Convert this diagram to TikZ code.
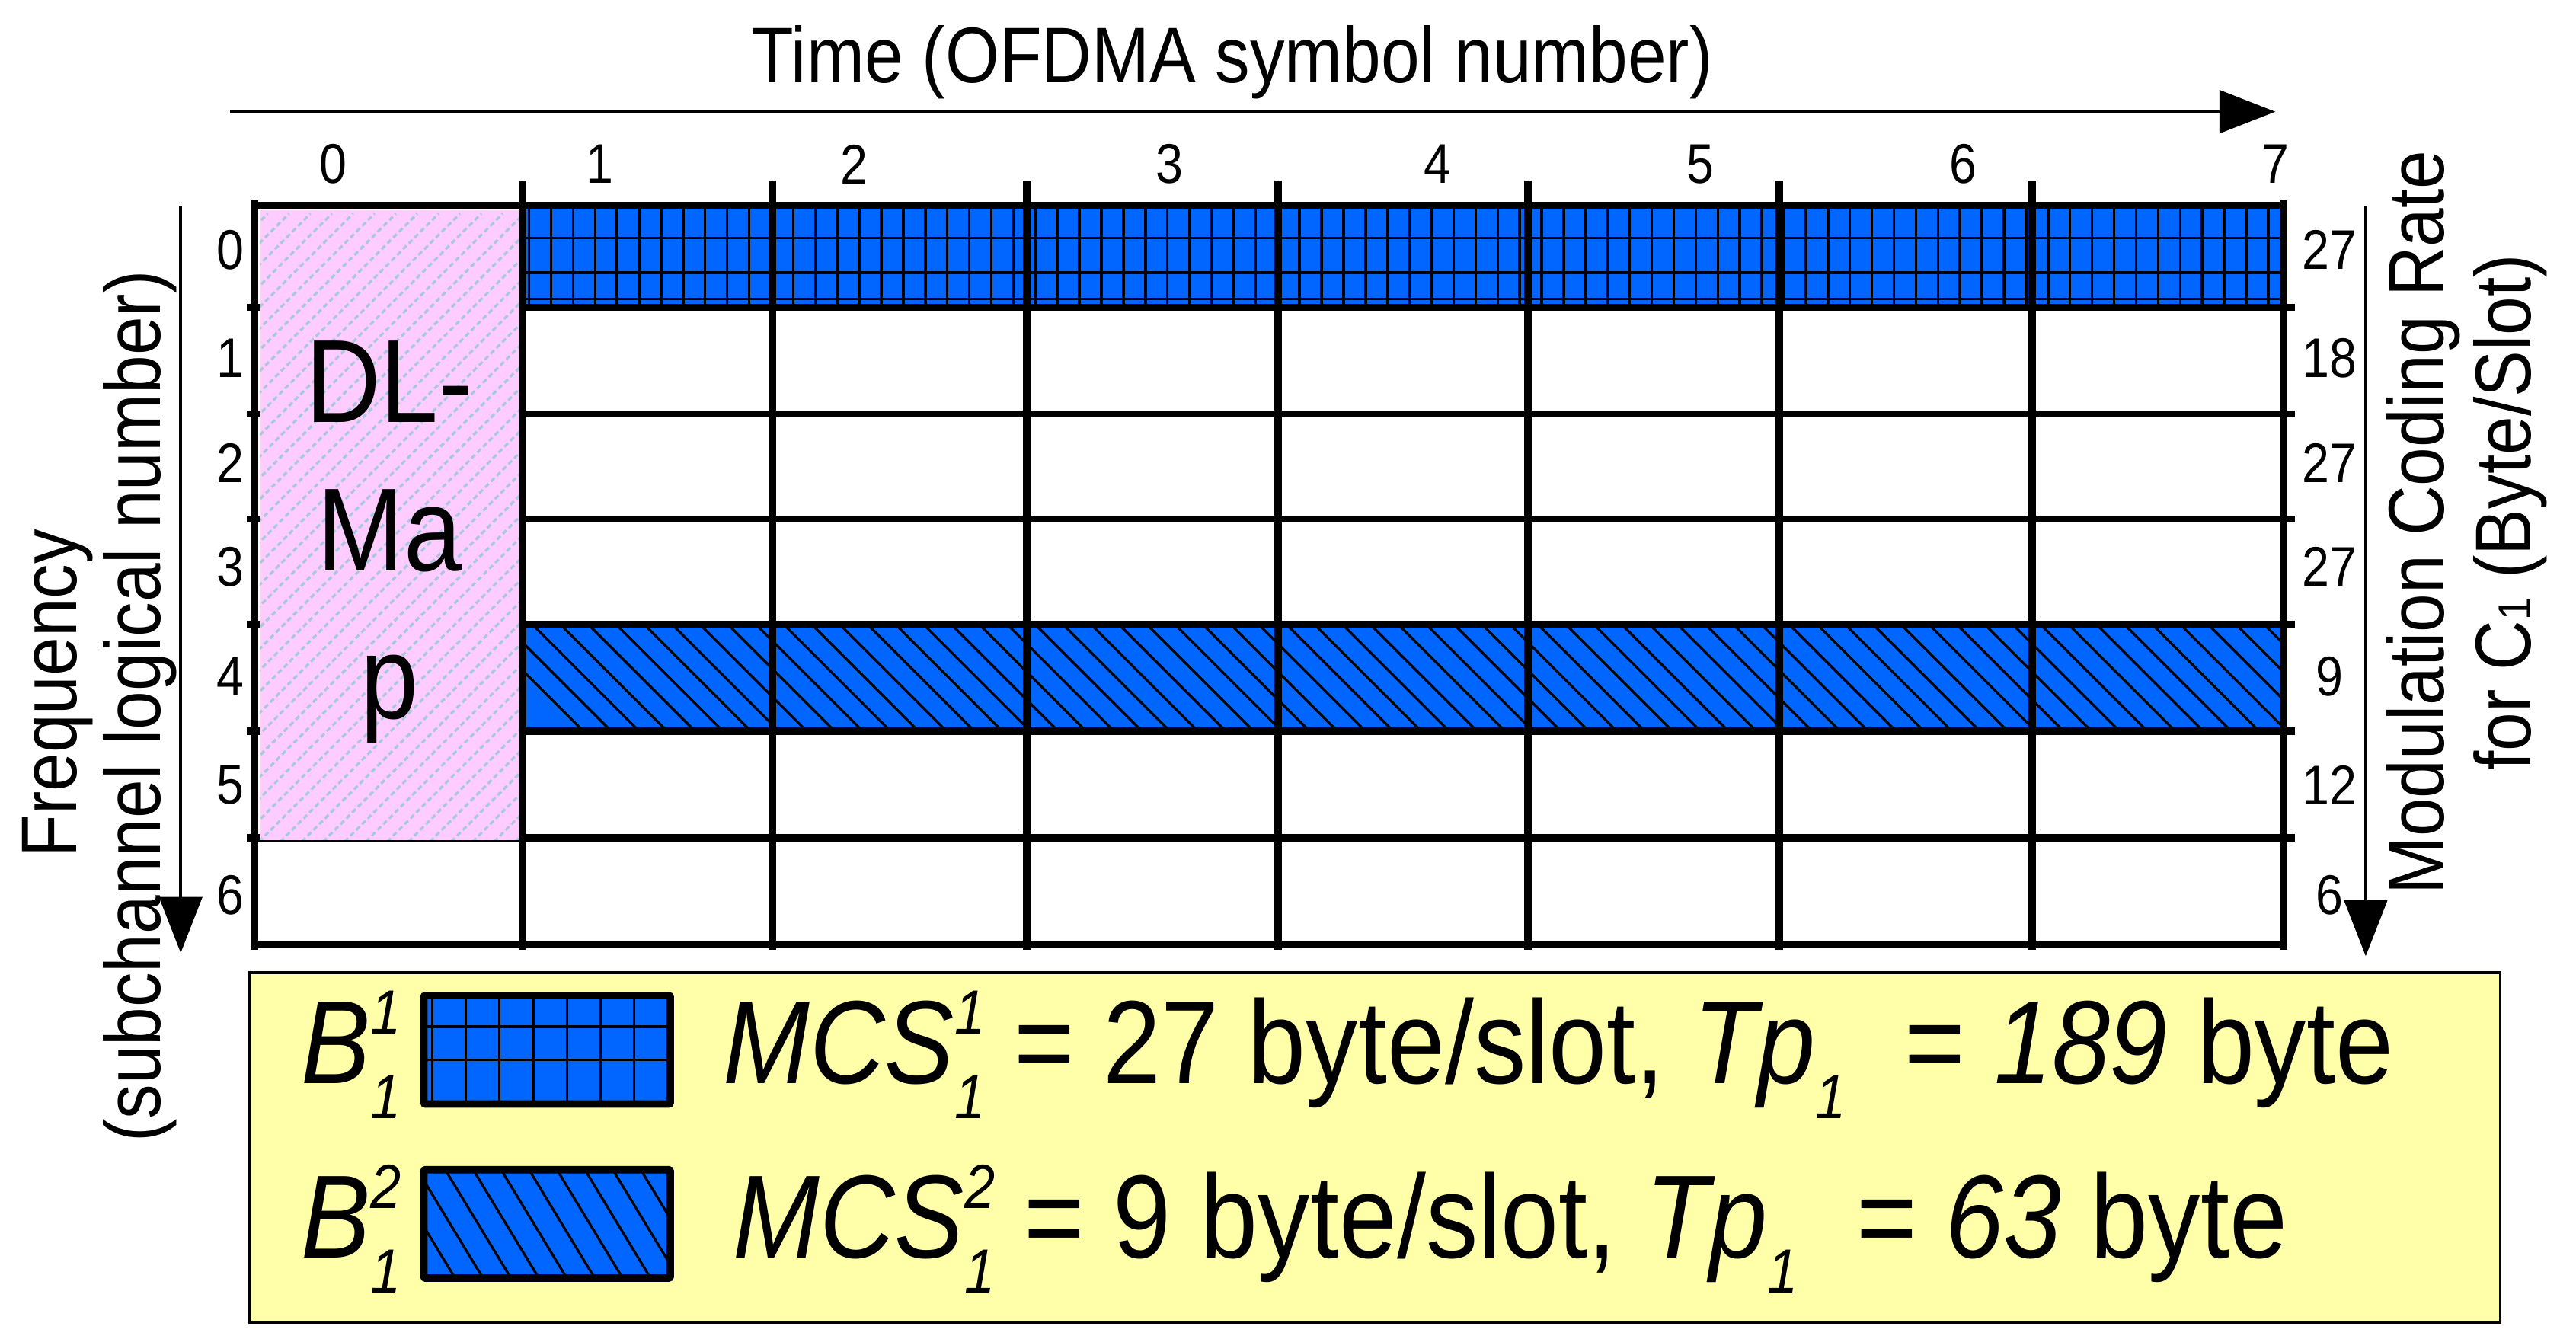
\documentclass[tikz,border=0pt]{standalone}
\usepackage{fontspec}
\setmainfont{Liberation Sans}[FakeStretch=0.88]
\usetikzlibrary{arrows.meta}
\definecolor{myblue}{HTML}{0066FF}
\definecolor{mypink}{HTML}{FFCCFF}
\definecolor{hatchblue}{HTML}{A8C8E0}
\definecolor{legy}{HTML}{FFFFAA}
\tikzset{
 grd/.style={line width=4.5pt},
 num/.style={font=\fontsize{34}{36}\selectfont, inner sep=0pt},
 lab/.style={font=\fontsize{48}{50}\selectfont, inner sep=0pt},
 leg/.style={font=\fontsize{72}{74}\selectfont, inner sep=0pt, anchor=west},
 bigarr/.style={line width=2pt,-{Triangle[length=34pt,width=26pt]}},
}
\newcommand{\mysub}[2]{\raisebox{0.42em}{\rlap{\fontsize{38}{38}\selectfont\itshape #1}}\raisebox{-0.3em}{\fontsize{38}{38}\selectfont\itshape #2}}
\begin{document}
\begin{tikzpicture}[x=1pt,y=-1pt]
\useasboundingbox (0,0) rectangle (1568,815);
% title and arrow
\node[lab] (title) at (750,38) {Time (OFDMA symbol number)};
\coordinate (ta) at (140,68);
\coordinate (tb) at (1385,68);
\draw[bigarr] (ta) -- (tb);
% column numbers
\foreach \n/\x in {0/203,1/365,2/520,3/712,4/875,5/1035,6/1195,7/1385}
  \node[num] (c\n) at (\x,100) {\n};
% row numbers left/right
\foreach \n/\y/\r in {0/152/27,1/218/18,2/282/27,3/345/27,4/412/9,5/478/12,6/545/6}{
  \node[num] (r\n) at (140,\y) {\n};
  \node[num] (m\n) at (1418,\y) {\r};
}
% DL-Map box
\fill[mypink] (158,128) rectangle (316,512);
\begin{scope}
\clip (158,128) rectangle (316,512);
\foreach \i in {0,...,45}
  \draw[hatchblue,line width=1.5pt,dash pattern=on 3pt off 2pt] (150+\i*13-400,530) -- (150+\i*13,130-0);
\end{scope}
\node[font=\fontsize{72}{90}\selectfont,align=center,inner sep=0pt] (dl) at (237,330) {DL-\\Ma\\p};
% row 0 grid pattern
\fill[myblue] (318,125) rectangle (1390,187);
\foreach \i in {0,...,79}
  \draw[line width=1.6pt] (322+\i*13.4,125) -- (322+\i*13.4,187);
\draw[line width=1.6pt] (318,145) -- (1390,145) (318,166) -- (1390,166) (318,182)--(1390,182);
% row 4 diagonal pattern
\fill[myblue] (318,380) rectangle (1390,445);
\begin{scope}
\clip (318,380) rectangle (1390,445);
\foreach \i in {0,...,70}
  \draw[line width=1.5pt] (290+\i*17,380) -- (290+\i*17+65,445);
\end{scope}
% grid lines
\foreach \y in {187,252,316,380,445,510}
  \draw[grd] (318,\y) -- (1390,\y);
\draw[grd] (155,125) -- (1390,125);
\draw[grd] (155,575) -- (1390,575);
\draw[grd] (155,122) -- (155,578);
\draw[grd] (318,110) -- (318,578);
\foreach \x in {470,625,778,930,1083,1237}
  \draw[grd] (\x,110) -- (\x,578);
\draw[grd] (1390,122) -- (1390,578);
\foreach \y in {187,252,316,380,445,510}{
  \draw[grd] (150,\y) -- (158,\y);
  \draw[grd] (1390,\y) -- (1397,\y);}
\draw[line width=1pt] (158,512) -- (316,512);
% side arrows
\coordinate (la) at (110,125);
\coordinate (lb) at (110,580);
\draw[bigarr] (la) -- (lb);
\coordinate (ra) at (1440,125);
\coordinate (rb) at (1440,582);
\draw[bigarr] (ra) -- (rb);
\node[lab,rotate=90] (f1) at (35,422) {Frequency};
\node[lab,rotate=90] (f2) at (85,430) {(subchannel logical number)};
\node[lab,rotate=90] (g1) at (1475,318) {Modulation Coding Rate};
\node[lab,rotate=90] (g2) at (1528,312) {for C{\fontsize{28}{30}\selectfont 1} (Byte/Slot)};
% legend
\draw[line width=1.5pt,fill=legy] (152,592) rectangle (1522,805);
\node[leg] (b1) at (183,642) {\textit{B}\mysub{1}{1}};
\node[leg] (b2) at (183,748) {\textit{B}\mysub{2}{1}};
\fill[myblue] (258,606) rectangle (408,672);
\foreach \i in {0,...,6}
  \draw[line width=1.5pt] (263+\i*20.5,606) -- (263+\i*20.5,672);
\draw[line width=1.5pt] (258,625) -- (408,625) (258,645) -- (408,645);
\draw[line width=4.5pt,rounded corners=1pt] (258,606) rectangle (408,672);
\fill[myblue] (258,712) rectangle (408,778);
\begin{scope}
\clip (258,712) rectangle (408,778);
\foreach \i in {0,...,12}
  \draw[line width=1.5pt] (220+\i*17,712) -- (220+\i*17+40,778);
\end{scope}
\draw[line width=4.5pt,rounded corners=1pt] (258,712) rectangle (408,778);
\node[leg] (t1) at (440,642) {\textit{MCS}\mysub{1}{1} = 27 byte/slot, \textit{Tp}\mysub{}{1}\hspace{0.25em} = \textit{189} byte};
\node[leg] (t2) at (446,748) {\textit{MCS}\mysub{2}{1} = 9 byte/slot, \textit{Tp}\mysub{}{1}\hspace{0.25em} = \textit{63} byte};
\end{tikzpicture}
\end{document}
